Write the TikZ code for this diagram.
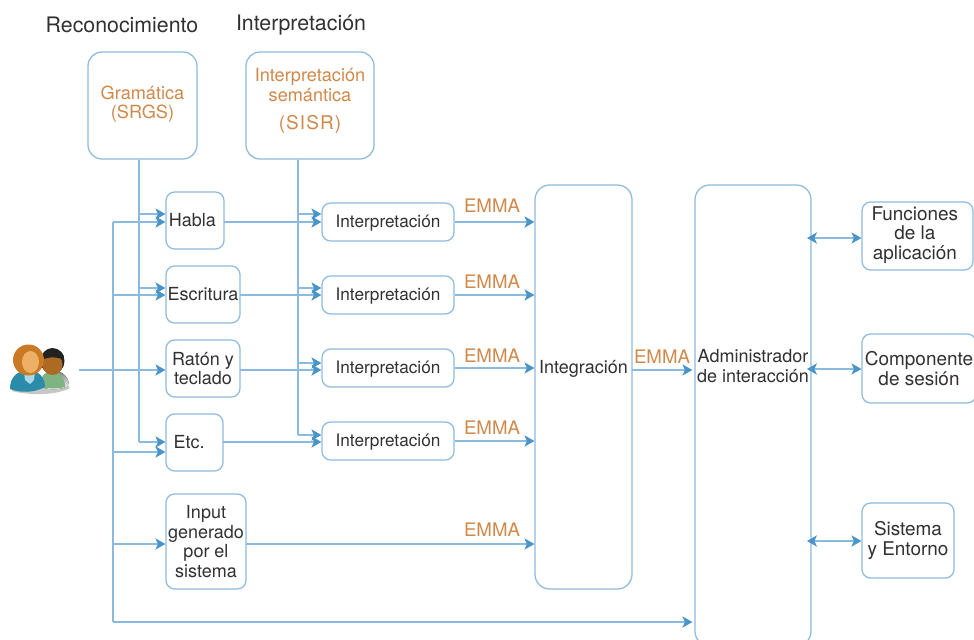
\documentclass[tikz,border=0pt]{standalone}
\usepackage{fontspec}
\setmainfont{TeX Gyre Heros}
\usetikzlibrary{arrows.meta,calc}
\definecolor{edgeblue}{HTML}{8FBBDE}
\definecolor{headblue}{HTML}{4A94C8}
\definecolor{lineblue}{HTML}{8ABADD}
\definecolor{orangetxt}{HTML}{D0894A}
\definecolor{darktxt}{HTML}{333030}
\definecolor{hair}{HTML}{C97A22}
\definecolor{faceA}{HTML}{EDB066}
\definecolor{faceB}{HTML}{AD6A22}
\definecolor{teal}{HTML}{2A8CA8}
\definecolor{collar}{HTML}{A9D8E6}
\definecolor{shirt}{HTML}{7DB482}
\definecolor{shade}{HTML}{3C4A40}
\definecolor{darkhair}{HTML}{222222}
\newcommand{\labfont}{\fontsize{13.5}{14.6}\selectfont}
\newcommand{\rightfont}{\fontsize{14.2}{14.6}\selectfont}
\newcommand{\intfont}{\fontsize{12.9}{14.6}\selectfont}
\newcommand{\headfont}{\fontsize{16}{18}\selectfont}
\newcommand{\emmafont}{\fontsize{14}{16}\selectfont}
\newcommand{\orgfont}{\fontsize{13.6}{14.8}\selectfont}
% \shifted{raise}{text}: text placed at a fixed offset from the node centre
\newcommand{\shifted}[2]{\raisebox{#1}[0pt][0pt]{#2}}
% \bx[options]{name}{x0}{y0}{x1}{y1}{text}
\newcommand{\bx}[7][]{%
  \node[boxn,#1,minimum width={(#5-#3)*0.75pt},minimum height={(#6-#4)*0.75pt}]
    (#2) at ({(#3+#5)/2},{-(#4+#6)/2}) {#7};}
\tikzset{
  x=0.75pt,y=0.75pt,
  boxn/.style={draw=edgeblue,line width=0.95pt,rounded corners=7.5pt,inner sep=0pt,
    align=center,text=darktxt,font=\labfont},
  small/.style={rounded corners=6.5pt},
  rightbox/.style={small,font=\rightfont},
  interpbox/.style={small,font=\intfont},
  orgbox/.style={rounded corners=10.5pt,text=orangetxt,font=\orgfont},
  bigbox/.style={rounded corners=11pt},
  head/.style={text=darktxt,font=\headfont,inner sep=0pt},
  emma/.style={text=orangetxt,font=\emmafont,inner sep=0pt},
  conn/.style={draw=lineblue,line width=0.85pt},
  tip/.tip={Stealth[length=7.5pt,width=8.5pt,inset=2pt,color=headblue]},
  arr/.style={conn,-{tip}},
  dbl/.style={conn,{tip}-{tip}},
}
\begin{document}
\begin{tikzpicture}
\useasboundingbox (0,0) rectangle (974,-639);
\clip (0,0) rectangle (974,-639);
\fill[white] (0,0) rectangle (974,-639);

% headings
\node[head] (h1) at (122,-25) {Reconocimiento};
\node[head] (h2) at (301,-25) {Interpretación};

% boxes
\bx[orgbox]{gram}{88}{52}{197}{159}{\shifted{-3.2pt}{\begin{tabular}{@{}c@{}}Gramática\\(SRGS)\end{tabular}}}
\bx[orgbox]{sisr}{246}{52}{374}{159}{\shifted{-0.4pt}{\begin{tabular}{@{}c@{}}Interpretación\\semántica\\[6pt]\addfontfeature{LetterSpace=6}\fontsize{14.2}{14.8}\selectfont (SISR)\end{tabular}}}
\bx[small]{habla}{166}{192}{224}{249}{\kern-4pt Habla}
\bx[small]{escr}{166}{266}{240}{323}{Escritura}
\bx[small]{raton}{166}{340}{240}{397}{Ratón y\\teclado}
\bx[small]{etc}{166}{414}{223}{471}{\kern-8pt Etc.}
\bx[small]{input}{166}{494}{246}{589}{Input\\generado\\por el\\sistema}
\bx[interpbox]{ia}{322}{203}{454}{241}{\shifted{-3.8pt}{Interpretación}}
\bx[interpbox]{ib}{322}{276}{454}{314}{\shifted{-3.8pt}{Interpretación}}
\bx[interpbox]{ic}{322}{349}{454}{387}{\shifted{-3.8pt}{Interpretación}}
\bx[interpbox]{id}{322}{422}{454}{460}{\shifted{-3.8pt}{Interpretación}}
\bx[bigbox]{integ}{535}{185}{632}{589}{\shifted{10pt}{Integración}}
\bx[bigbox]{admin}{695}{185}{811}{646}{\shifted{31.7pt}{\begin{tabular}{@{}c@{}}Administrador\\de interacción\end{tabular}}}
\bx[rightbox]{func}{862}{202}{973}{270}{\kern-4pt\begin{tabular}{@{}c@{}}Funciones\\de la\\aplicación\end{tabular}}
\bx[rightbox]{comp}{862}{334}{976}{403}{Componente\\de sesión}
\bx[rightbox]{sist}{862}{503}{954}{578}{Sistema\\y Entorno}

% junctions
\coordinate (user) at (79,-370);
\coordinate (bA) at (113,-222);
\coordinate (bB) at (113,-295);
\coordinate (bC) at (113,-452);
\coordinate (bD) at (113,-544);
\coordinate (bE) at (113,-622);
\coordinate (gA) at (139,-214);
\coordinate (gB) at (139,-288);
\coordinate (gC) at (139,-442);
\coordinate (sA) at (298,-214);
\coordinate (sB) at (298,-288);
\coordinate (sC) at (298,-363);
\coordinate (sD) at (298,-435);
\coordinate (oA) at (224,-222);
\coordinate (oB) at (240,-295);
\coordinate (oC) at (240,-370);
\coordinate (oD) at (223,-442);
\coordinate (oI) at (246,-544);
\coordinate (adm1) at (807,-238);
\coordinate (adm2) at (807,-369);
\coordinate (adm3) at (807,-541);

% grammar bus
\draw[conn] (gC |- gram.south) -- (gC);
\draw[arr] (gA) -- (gA -| habla.west);
\draw[arr] (gB) -- (gB -| escr.west);
\draw[arr] (gC) -- (gC -| etc.west);

% SISR bus
\draw[conn] (sD |- sisr.south) -- (sD);
\draw[arr] (sA) -- (sA -| ia.west);
\draw[arr] (sB) -- (sB -| ib.west);
\draw[arr] (sC) -- (sC -| ic.west);
\draw[arr] (sD) -- (sD -| id.west);

% user bus
\draw[conn] (bA) -- (bE);
\draw[arr] (bA) -- (bA -| habla.west);
\draw[arr] (bB) -- (bB -| escr.west);
\draw[arr] (user) -- (user -| raton.west);
\draw[arr] (bC) -- (bC -| etc.west);
\draw[arr] (bD) -- (bD -| input.west);
\draw[arr] (bE) -- ($(bE -| admin.west)+(-2,0)$);

% modality to interpretation
\draw[arr] (oA) -- (oA -| ia.west);
\draw[arr] (oB) -- (oB -| ib.west);
\draw[arr] (oC) -- (oC -| ic.west);
\draw[arr] (oD) -- (oD -| id.west);

% interpretation to integration
\draw[arr] (ia.east) -- (ia.east -| integ.west);
\draw[arr] (ib.east) -- (ib.east -| integ.west);
\draw[arr] (ic.east) -- (ic.east -| integ.west);
\draw[arr] (id.east) -- (id.east -| integ.west);
\draw[arr] (oI) -- (oI -| integ.west);

% integration to manager
\coordinate (iout) at (632,-370);
\draw[arr] (iout) -- ($(iout -| admin.west)+(-2,0)$);

% manager to services
\draw[dbl] (adm1) -- (adm1 -| func.west);
\draw[dbl] (adm2) -- (adm2 -| comp.west);
\draw[dbl] (adm3) -- (adm3 -| sist.west);

% EMMA labels
\node[emma] (e1) at (492,-206) {EMMA};
\node[emma] (e2) at (492,-282) {EMMA};
\node[emma] (e3) at (492,-356) {EMMA};
\node[emma] (e4) at (492,-428) {EMMA};
\node[emma] (e5) at (492,-530) {EMMA};
\node[emma] (e6) at (662,-357) {EMMA};

% users icon
\fill[black,opacity=.22] (12,-391) .. controls (30,-396) and (58,-395) .. (70,-388) -- (62,-384) -- (14,-386) -- cycle;
% man
\fill[shade] (40,-387) .. controls (40,-377) and (46,-371) .. (55,-371) .. controls (63,-371) and (69,-378) .. (69,-386) .. controls (60,-390) and (50,-390) .. (40,-387) -- cycle;
\fill[shirt] (40,-387) .. controls (40,-377) and (45,-371) .. (52,-371) .. controls (59,-371) and (65,-378) .. (65,-387) .. controls (58,-389) and (48,-389) .. (40,-387) -- cycle;
\fill[darkhair] (52.5,-361) circle[x radius=12,y radius=13];
\fill[faceB] (52.5,-364.5) circle[x radius=10,y radius=10.5];
\fill[darkhair] (42,-360) .. controls (41,-353) and (47,-349) .. (53,-349) .. controls (60,-349) and (65,-354) .. (64,-360) .. controls (58,-357) and (49,-356) .. (42,-360) -- cycle;
% woman
\fill[teal] (10,-389) .. controls (10,-377) and (17,-371) .. (28,-370) .. controls (38,-370) and (45,-377) .. (45,-387) .. controls (34,-393) and (20,-393) .. (10,-389) -- cycle;
\fill[collar] (24,-372) -- (35,-372) -- (34,-380) -- (30,-384) -- (25,-380) -- cycle;
\fill[hair] (28.5,-360) circle[radius=15.5];
\fill[faceA] (30.5,-362) circle[x radius=8.5,y radius=11];
\end{tikzpicture}
\end{document}
